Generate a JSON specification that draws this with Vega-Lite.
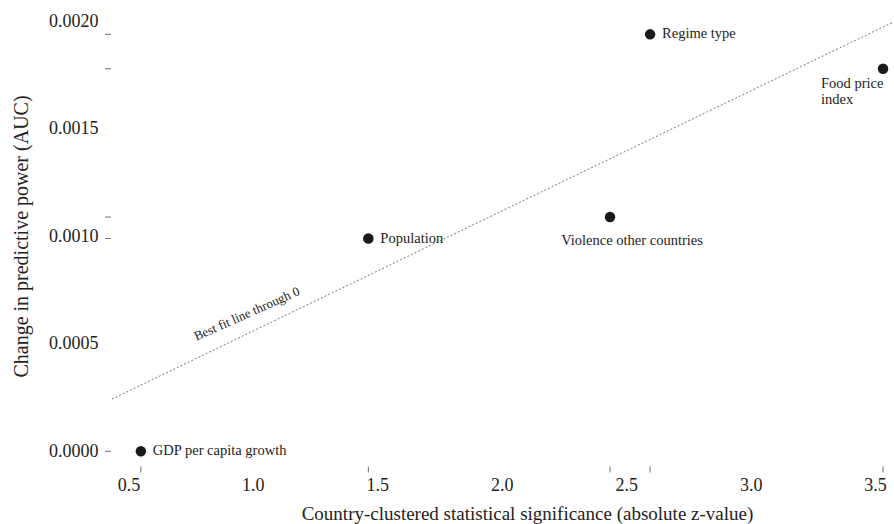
{
  "$schema": "https://vega.github.io/schema/vega-lite/v6.json",
  "autosize": "none",
  "width": 784,
  "height": 450,
  "padding": {"left": 111, "top": 18, "right": 0, "bottom": 56},
  "background": "white",
  "config": {"font": "Liberation Serif", "view": {"stroke": null}, "axis": {"grid": false}},
  "datasets": {
    "vars": [
      {"variable": "GDP per capita growth", "z": 0.55, "auc": 0.0},
      {"variable": "Population", "z": 1.464, "auc": 0.00099},
      {"variable": "Violence other countries", "z": 2.435, "auc": 0.00109},
      {"variable": "Regime type", "z": 2.596, "auc": 0.00194},
      {"variable": "Food price index", "z": 3.532, "auc": 0.00178}
    ],
    "fit": [
      {"z": 0.434, "auc": 0.000243},
      {"z": 3.58, "auc": 0.002001}
    ],
    "fitlabel": [
      {"z": 0.976, "auc": 0.000639, "label": "Best fit line through 0"}
    ]
  },
  "layer": [
    {
      "data": {"name": "fit"},
      "mark": {"type": "line", "strokeDash": [2, 2], "color": "#777777", "strokeWidth": 1},
      "encoding": {
        "x": {"field": "z", "type": "quantitative",
          "scale": {"domain": [0.43, 3.58], "nice": false, "zero": false},
          "axis": {"title": "Country-clustered statistical significance (absolute z-value)",
            "values": [0.5, 1, 1.5, 2, 2.5, 3, 3.5], "format": ".1f",
            "ticks": false, "domain": false, "labelPadding": 8, "labelFontSize": 18,
            "titleFontSize": 19, "titleFontWeight": "normal", "labelColor": "#222222",
            "titleColor": "#222222", "titlePadding": 10, "titleX": 416,
            "labelFlush": false, "labelOverlap": false}},
        "y": {"field": "auc", "type": "quantitative",
          "scale": {"domain": [-0.0000776, 0.002016], "nice": false, "zero": false},
          "axis": {"title": "Change in predictive power (AUC)",
            "values": [0, 0.0005, 0.001, 0.0015, 0.002], "format": ".4f",
            "ticks": false, "domain": false, "labelPadding": 13, "labelFontSize": 18,
            "titleFontSize": 20, "titleFontWeight": "normal", "labelColor": "#222222",
            "titleColor": "#222222", "titlePadding": 17, "titleY": 218,
            "labelFlush": false, "labelOverlap": false}}
      }
    },
    {
      "data": {"name": "fitlabel"},
      "mark": {"type": "text", "angle": -24, "fontSize": 13, "align": "center", "baseline": "middle", "color": "#222222"},
      "encoding": {
        "x": {"field": "z", "type": "quantitative"},
        "y": {"field": "auc", "type": "quantitative"},
        "text": {"field": "label"}
      }
    },
    {
      "data": {"name": "vars"},
      "mark": {"type": "tick", "orient": "vertical", "size": 6, "thickness": 1, "color": "#333333"},
      "encoding": {
        "x": {"field": "z", "type": "quantitative"},
        "y": {"datum": -0.000085, "type": "quantitative"}
      }
    },
    {
      "data": {"name": "vars"},
      "mark": {"type": "tick", "orient": "horizontal", "size": 6, "thickness": 1, "color": "#333333"},
      "encoding": {
        "x": {"datum": 0.418, "type": "quantitative"},
        "y": {"field": "auc", "type": "quantitative"}
      }
    },
    {
      "data": {"name": "vars"},
      "mark": {"type": "circle", "size": 110, "opacity": 1, "color": "#1a1a1a"},
      "encoding": {
        "x": {"field": "z", "type": "quantitative"},
        "y": {"field": "auc", "type": "quantitative"}
      }
    },
    {
      "data": {"name": "vars"},
      "transform": [{"filter": "datum.variable === 'GDP per capita growth' || datum.variable === 'Population' || datum.variable === 'Regime type'"}],
      "mark": {"type": "text", "align": "left", "baseline": "middle", "dx": 12, "fontSize": 14.5, "color": "#222222"},
      "encoding": {
        "x": {"field": "z", "type": "quantitative"},
        "y": {"field": "auc", "type": "quantitative"},
        "text": {"field": "variable"}
      }
    },
    {
      "data": {"name": "vars"},
      "transform": [{"filter": "datum.variable === 'Violence other countries'"}],
      "mark": {"type": "text", "align": "center", "baseline": "middle", "dx": 22, "dy": 24, "fontSize": 14.5, "color": "#222222"},
      "encoding": {
        "x": {"field": "z", "type": "quantitative"},
        "y": {"field": "auc", "type": "quantitative"},
        "text": {"field": "variable"}
      }
    },
    {
      "data": {"name": "vars"},
      "transform": [{"filter": "datum.variable === 'Food price index'"}],
      "mark": {"type": "text", "align": "left", "baseline": "middle", "dx": -62, "dy": 15, "lineHeight": 16.5, "fontSize": 14.5, "color": "#222222"},
      "encoding": {
        "x": {"field": "z", "type": "quantitative"},
        "y": {"field": "auc", "type": "quantitative"},
        "text": {"value": ["Food price", "\u2009index"]}
      }
    }
  ]
}
